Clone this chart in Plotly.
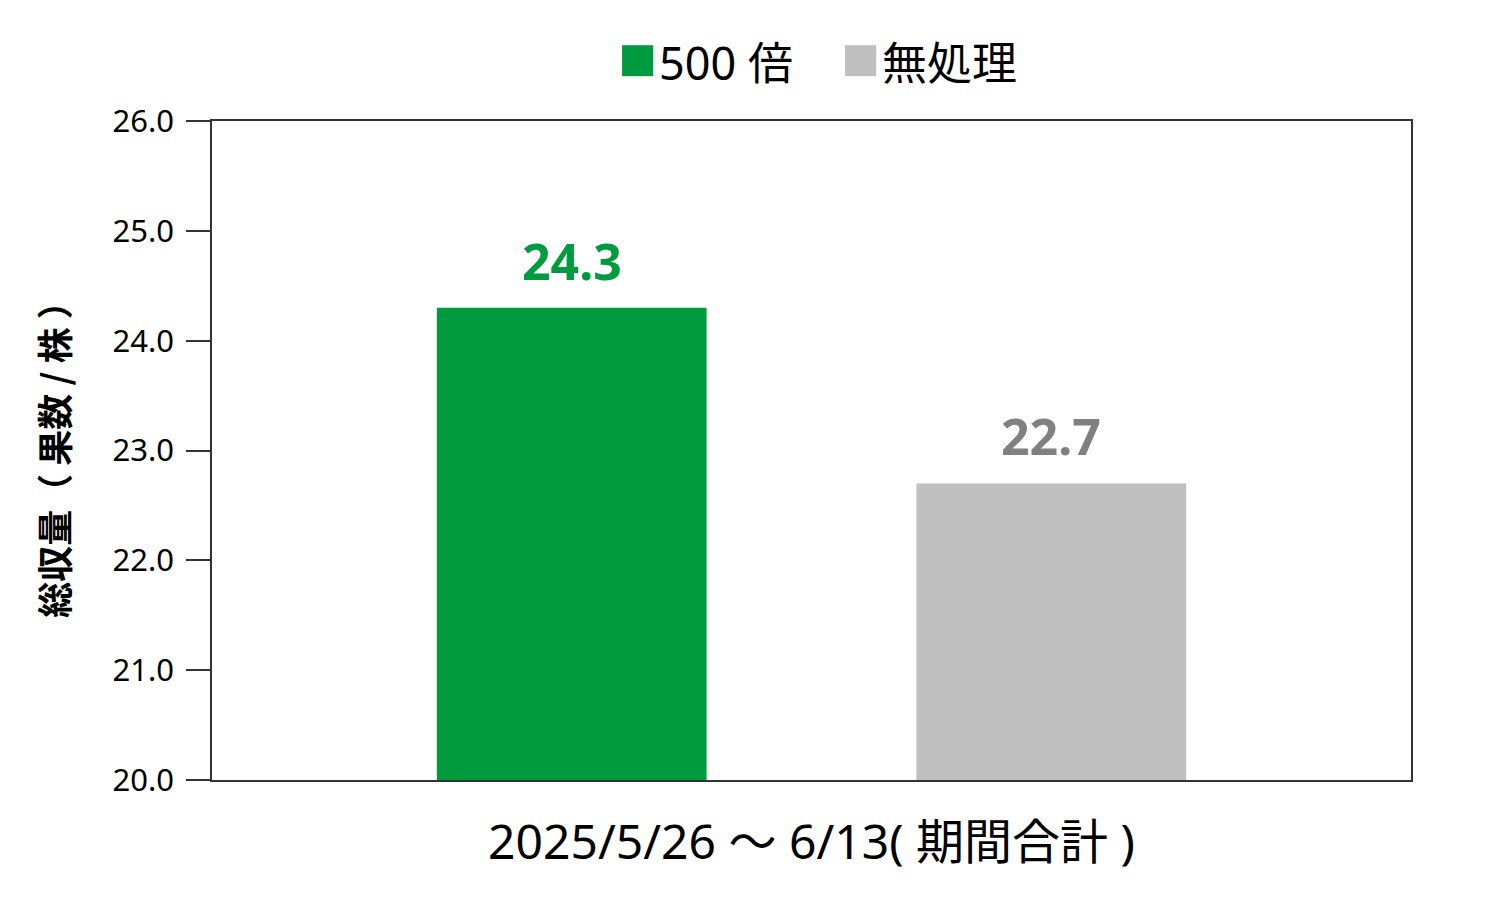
import plotly.graph_objects as go

# data
period = "2025/5/26 ～ 6/13( 期間合計 )"
series_names = ["500 倍", "無処理"]
series_values = [24.3, 22.7]
bar_colors = ["#009b3e", "#bfbfbf"]
label_colors = ["#009b3e", "#808080"]
y_ticks = [20.0, 21.0, 22.0, 23.0, 24.0, 25.0, 26.0]

FONT = "Noto Sans, Noto Sans CJK JP"
BARGAP = 0.2

fig = go.Figure()
for name, val, col in zip(series_names, series_values, bar_colors):
    fig.add_trace(go.Bar(x=[period], y=[val], name=name,
                         marker=dict(color=col, line=dict(width=0)),
                         showlegend=False))

# value labels above bars (grouped offsets derived from bargap)
n = len(series_names)
slot = (1 - BARGAP) / n
annotations = []
for i, (val, col) in enumerate(zip(series_values, label_colors)):
    xpos = -(1 - BARGAP) / 2 + slot * (i + 0.5)
    annotations.append(dict(x=xpos, y=val, xref="x", yref="y", text=f"{val:.1f}",
                            showarrow=False, yanchor="bottom", yshift=11,
                            font=dict(family=FONT, size=50, color=col, weight="bold")))

# custom legend: big squares + text
legend_x = [0.342, 0.528]
shapes = []
for lx, name, col in zip(legend_x, series_names, bar_colors):
    shapes.append(dict(type="rect", xref="paper", yref="paper",
                       x0=lx, x1=lx + 0.026, y0=1.068, y1=1.115,
                       fillcolor=col, line=dict(width=0)))
    annotations.append(dict(x=lx + 0.029, y=1.089, xref="paper", yref="paper",
                            text=name, showarrow=False, xanchor="left", yanchor="middle",
                            font=dict(family=FONT, size=45, color="black")))

fig.update_layout(
    width=1500, height=900,
    paper_bgcolor="white", plot_bgcolor="white",
    margin=dict(l=204, r=97, t=113, b=128),
    barmode="group", bargap=BARGAP, bargroupgap=0.4375,
    font=dict(family=FONT, color="black"),
    shapes=shapes, annotations=annotations,
    xaxis=dict(showline=True, linecolor="#333333", linewidth=1.5, mirror=True,
               ticks="", showgrid=False,
               tickfont=dict(family=FONT, size=48, color="black"),
               ticklabelstandoff=20),
    yaxis=dict(range=[20, 26], tickvals=y_ticks, tickformat=".1f",
               showline=True, linecolor="#333333", linewidth=1.5, mirror=True,
               ticks="outside", ticklen=24, tickcolor="#333333", tickwidth=1.5,
               showgrid=False, zeroline=False,
               tickfont=dict(family=FONT, size=31, color="black"),
               ticklabelstandoff=6,
               title=dict(text="総収量（ 果数 / 株 ）", standoff=32,
                          font=dict(family="Noto Sans CJK JP", size=36, color="black",
                                    weight="bold"))),
)

fig.write_html("out.html")
